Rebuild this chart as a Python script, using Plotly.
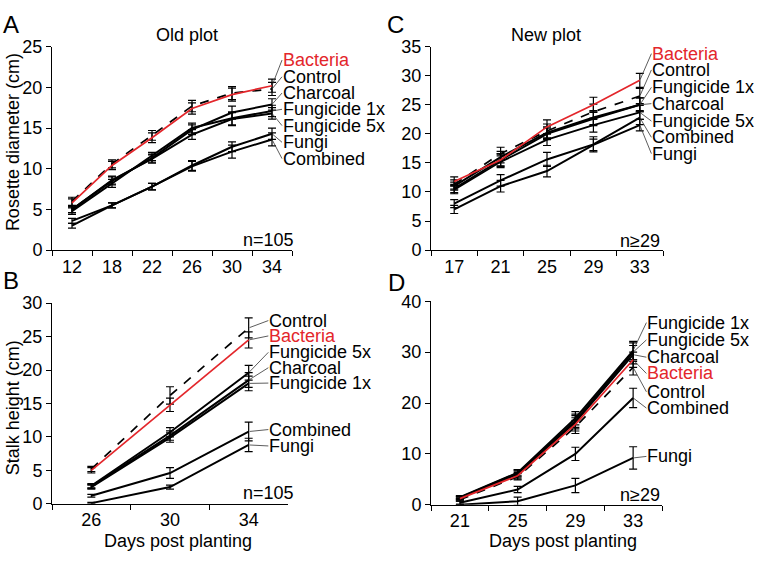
import plotly.graph_objects as go

# ---------------- data ----------------
# Panel A: Old plot, rosette diameter (cm)
days_A = ["12", "18", "22", "26", "30", "34"]
A_vals = {
    "Bacteria":     [5.8, 10.4, 13.8, 17.4, 19.1, 20.2],
    "Control":      [6.0, 10.6, 14.1, 17.7, 19.3, 19.8],
    "Charcoal":     [5.0, 8.5, 11.3, 14.8, 16.9, 17.9],
    "Fungicide 1x": [4.8, 8.2, 11.5, 15.0, 16.2, 17.1],
    "Fungicide 5x": [5.0, 8.6, 11.2, 14.2, 16.1, 16.8],
    "Fungi":        [3.6, 5.5, 7.8, 10.4, 12.7, 14.3],
    "Combined":     [3.0, 5.5, 7.8, 10.3, 12.1, 13.6],
}
A_err = {
    "Bacteria":     [0.5, 0.5, 0.6, 0.7, 0.8, 0.8],
    "Control":      [0.5, 0.5, 0.6, 0.7, 0.8, 0.8],
    "Charcoal":     [0.4, 0.5, 0.5, 0.6, 0.8, 0.7],
    "Fungicide 1x": [0.4, 0.5, 0.5, 0.6, 0.8, 0.7],
    "Fungicide 5x": [0.4, 0.5, 0.5, 0.6, 0.8, 0.7],
    "Fungi":        [0.3, 0.3, 0.4, 0.6, 0.6, 0.7],
    "Combined":     [0.3, 0.3, 0.4, 0.6, 0.8, 0.8],
}

# Panel B: Old plot, stalk height (cm)
days_B = ["26", "30", "34"]
B_vals = {
    "Control":      [5.2, 16.2, 26.3],
    "Bacteria":     [5.0, 14.8, 24.5],
    "Fungicide 5x": [2.7, 10.7, 19.6],
    "Charcoal":     [2.6, 10.2, 18.5],
    "Fungicide 1x": [2.5, 9.9, 18.0],
    "Combined":     [1.2, 4.6, 10.8],
    "Fungi":        [0.1, 2.5, 8.8],
}
B_err = {
    "Control":      [0.4, 1.3, 1.5],
    "Bacteria":     [0.4, 1.0, 1.2],
    "Fungicide 5x": [0.3, 0.7, 1.1],
    "Charcoal":     [0.3, 0.7, 1.1],
    "Fungicide 1x": [0.3, 0.7, 1.1],
    "Combined":     [0.2, 0.8, 1.4],
    "Fungi":        [0.1, 0.3, 1.0],
}

# Panel C: New plot, rosette diameter (cm)
days_C = ["17", "21", "25", "29", "33"]
C_vals = {
    "Bacteria":     [11.8, 15.5, 21.2, 25.0, 29.2],
    "Control":      [11.3, 16.6, 20.5, 23.8, 26.5],
    "Fungicide 1x": [11.0, 16.0, 20.2, 22.8, 25.0],
    "Charcoal":     [10.6, 15.5, 20.0, 22.6, 25.0],
    "Fungicide 5x": [10.4, 15.2, 19.0, 21.5, 23.7],
    "Combined":     [8.0, 12.0, 15.6, 18.2, 22.8],
    "Fungi":        [7.0, 11.0, 13.6, 18.1, 21.5],
}
C_err = {
    "Bacteria":     [0.8, 1.1, 1.2, 1.3, 1.2],
    "Control":      [0.8, 1.1, 1.2, 1.3, 1.3],
    "Fungicide 1x": [0.7, 1.0, 1.0, 1.2, 1.2],
    "Charcoal":     [0.7, 1.0, 1.0, 1.2, 1.2],
    "Fungicide 5x": [0.7, 1.0, 1.0, 1.2, 1.2],
    "Combined":     [0.7, 1.0, 1.2, 1.3, 1.2],
    "Fungi":        [0.7, 1.0, 1.0, 1.0, 1.0],
}

# Panel D: New plot, stalk height (cm)
days_D = ["21", "25", "29", "33"]
D_vals = {
    "Fungicide 1x": [1.5, 6.3, 17.0, 30.3],
    "Fungicide 5x": [1.4, 6.2, 16.5, 30.0],
    "Charcoal":     [1.3, 6.0, 16.2, 29.5],
    "Bacteria":     [1.2, 5.7, 15.8, 28.5],
    "Control":      [1.0, 5.5, 15.3, 27.0],
    "Combined":     [0.4, 3.0, 10.0, 21.0],
    "Fungi":        [0.0, 0.7, 3.8, 9.2],
}
D_err = {
    "Fungicide 1x": [0.3, 0.6, 1.3, 1.8],
    "Fungicide 5x": [0.3, 0.6, 1.3, 1.8],
    "Charcoal":     [0.3, 0.6, 1.3, 1.8],
    "Bacteria":     [0.3, 0.6, 1.3, 1.5],
    "Control":      [0.3, 0.6, 1.3, 1.5],
    "Combined":     [0.3, 0.6, 1.3, 1.9],
    "Fungi":        [0.1, 0.8, 1.4, 2.2],
}

# label stacking positions (layout only, in axis units)
A_lab = {"Bacteria": 23.35, "Control": 21.3, "Charcoal": 19.3, "Fungicide 1x": 17.3,
         "Fungicide 5x": 15.3, "Fungi": 13.25, "Combined": 11.25}
B_lab = {"Control": 27.4, "Bacteria": 25.1, "Fungicide 5x": 22.65, "Charcoal": 20.35,
         "Fungicide 1x": 18.05, "Combined": 11.1, "Fungi": 8.65}
C_lab = {"Bacteria": 33.8, "Control": 31.0, "Fungicide 1x": 28.0, "Charcoal": 25.2,
         "Fungicide 5x": 22.2, "Combined": 19.4, "Fungi": 16.6}
D_lab = {"Fungicide 1x": 35.8, "Fungicide 5x": 32.4, "Charcoal": 29.0, "Bacteria": 25.8,
         "Control": 22.2, "Combined": 19.0, "Fungi": 9.5}

RED = "#e3262b"
FONT = "Liberation Sans, Arial, Helvetica, sans-serif"
W, H = 762, 562

fig = go.Figure()


def style(name):
    if name == "Bacteria":
        return dict(color=RED, width=1.7, dash="solid")
    if name == "Control":
        return dict(color="black", width=1.7, dash="dash")
    return dict(color="black", width=2.0, dash="solid")


def add_panel(days, vals, errs, labs, xa, ya, lab_x):
    order = [s for s in vals if s not in ("Control", "Bacteria")] + ["Control", "Bacteria"]
    for s in order:
        fig.add_trace(go.Scatter(
            x=days, y=vals[s], mode="lines", line=style(s), name=s,
            error_y=dict(type="data", array=errs[s], color="black", thickness=1.2, width=4),
            xaxis=xa, yaxis=ya, showlegend=False, cliponaxis=False))
    n = len(days)
    for s in vals:
        fig.add_annotation(
            x=n - 1, y=vals[s][-1], xref=xa, yref=ya,
            ax=lab_x, ay=labs[s], axref=xa, ayref=ya,
            text=s, showarrow=True, arrowhead=0, arrowwidth=0.8, arrowcolor="#333333",
            xanchor="left", yanchor="middle", standoff=1, borderpad=0,
            font=dict(family=FONT, size=18, color=RED if s == "Bacteria" else "black"))


add_panel(days_A, A_vals, A_err, A_lab, "x", "y", 5.25)
add_panel(days_C, C_vals, C_err, C_lab, "x2", "y2", 4.25)
add_panel(days_B, B_vals, B_err, B_lab, "x3", "y3", 2.25)
add_panel(days_D, D_vals, D_err, D_lab, "x4", "y4", 3.23)


def xax(domain, anchor, cats):
    return dict(domain=domain, anchor=anchor, type="category", categoryarray=cats,
                range=[-0.5, len(cats) - 0.5], tickson="boundaries", ticks="outside",
                ticklen=5, tickwidth=1, tickcolor="black", showline=True, linecolor="black",
                linewidth=1, showgrid=False, zeroline=False,
                tickfont=dict(family=FONT, size=18, color="black"))


def yax(domain, anchor, rng, dtick):
    return dict(domain=domain, anchor=anchor, range=rng, dtick=dtick, ticks="outside",
                ticklen=5, tickwidth=1, tickcolor="black", showline=True, linecolor="black",
                linewidth=1, showgrid=False, zeroline=False,
                tickfont=dict(family=FONT, size=18, color="black"))


def dx(a, b):
    return [a / W, b / W]


def dy(top, bottom):
    return [(H - bottom) / H, (H - top) / H]


fig.update_layout(
    width=W, height=H, margin=dict(l=0, r=0, t=0, b=0),
    paper_bgcolor="white", plot_bgcolor="white",
    font=dict(family=FONT, size=18, color="black"),
    xaxis=xax(dx(52, 292), "y", days_A),
    yaxis=yax(dy(38, 249), "x", [0, 25], 5),
    xaxis2=xax(dx(431, 663), "y2", days_C),
    yaxis2=yax(dy(38, 249), "x2", [0, 35], 5),
    xaxis3=xax(dx(52, 288), "y3", days_B),
    yaxis3=yax(dy(304, 512), "x3", [0, 30], 5),
    xaxis4=xax(dx(431, 662), "y4", days_D),
    yaxis4=yax(dy(302, 513), "x4", [0, 40], 10),
)


def txt(x, y, s, size=18, angle=0, xanchor="center"):
    fig.add_annotation(x=x / W, y=(H - y) / H, xref="paper", yref="paper",
                       text=s, showarrow=False, textangle=angle, xanchor=xanchor,
                       yanchor="middle", font=dict(family=FONT, size=size, color="black"))


txt(11, 15, "A", 24)
txt(395, 15, "C", 24)
txt(11, 280, "B", 24)
txt(396, 283, "D", 24)
txt(187, 26, "Old plot")
txt(546, 26, "New plot")
txt(13, 137, "Rosette diameter (cm)", angle=-90)
txt(13, 413, "Stalk height (cm)", angle=-90)
txt(178, 551, "Days post planting")
txt(563, 551, "Days post planting")
txt(296, 238, "n=105", xanchor="right")
txt(296, 501, "n=105", xanchor="right")
txt(662, 240, "n≥29", xanchor="right")
txt(662, 503, "n≥29", xanchor="right")

fig.write_html("out.html", post_script="document.body.style.margin='0px';",
               config={"displayModeBar": False})
